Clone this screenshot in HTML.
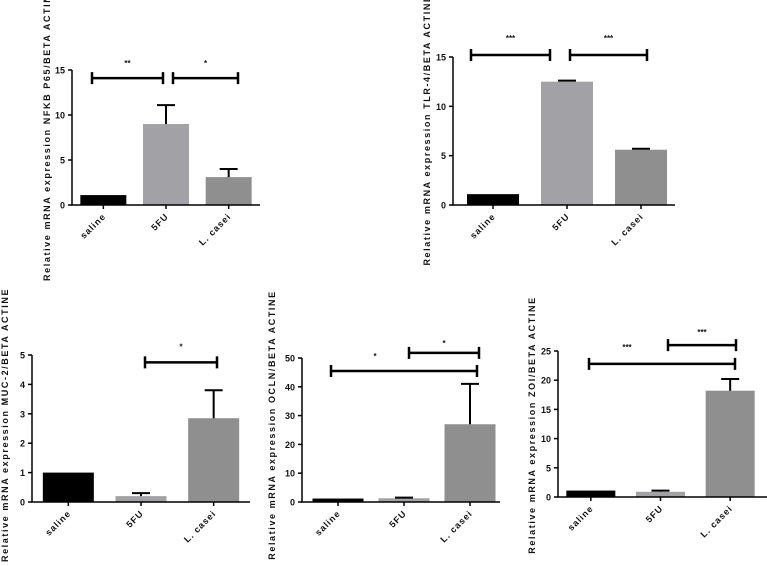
<!DOCTYPE html>
<html><head><meta charset="utf-8"><style>
body{margin:0;background:#fff;width:767px;height:566px;overflow:hidden}
svg{display:block}
text{font-family:"Liberation Sans",sans-serif;font-weight:bold;fill:#111}
</style></head><body>
<svg id="c" width="767" height="566"></svg>
<script>
const categories=["saline","5FU","L. casei"];
const nfkbValues=[1.1,9.0,3.1];
const nfkbErrors=[0,2.1,0.9];
const tlrValues=[1.1,12.5,5.6];
const tlrErrors=[0,0.1,0.1];
const mucValues=[1.0,0.2,2.85];
const mucErrors=[0,0.1,0.95];
const oclnValues=[1.2,1.3,27];
const oclnErrors=[0,0.2,14];
const zoiValues=[1.1,0.9,18.2];
const zoiErrors=[0,0.2,2.0];
const nfkbTicks=[0,5,10,15];
const tlrTicks=[0,5,10,15];
const mucTicks=[0,1,2,3,4,5];
const oclnTicks=[0,10,20,30,40,50];
const zoiTicks=[0,5,10,15,20,25];
const nfkbSig=[{y:14.1,s:"**"},{y:14.1,s:"*"}];
const tlrSig=[{y:15.2,s:"***"},{y:15.2,s:"***"}];
const mucSig=[{y:4.75,s:"*"}];
const oclnSig=[{y:45.5,s:"*"},{y:51.8,s:"*"}];
const zoiSig=[{y:22.8,s:"***"},{y:26,s:"***"}];
const colors=["#000","#a2a2a6","#8f8f8f"];
const NS="http://www.w3.org/2000/svg";
const svg=document.getElementById('c');
function mk(tag,attrs,parent,txt){const e=document.createElementNS(NS,tag);for(const k in attrs)e.setAttribute(k,attrs[k]);if(txt!==undefined)e.textContent=txt;parent.appendChild(e);return e;}
function panel(o){
  const g=mk('g',{},svg);
  
  
  const y=v=>o.y0-(v/o.max)*(o.y0-o.yTop);
  const bw=(o.xEnd-o.ax)/3;
  const cx=i=>o.ax+bw*(i+0.5)+o.shift;
  const barW=o.barW;
  o.values.forEach((v,i)=>{
    const r=mk('rect',{x:cx(i)-barW/2,y:y(v),width:barW,height:o.y0-y(v),fill:colors[i]},g);
    
    
    if(o.errs[i]>0){
      const top=y(v+o.errs[i]);
      const l=mk('path',{d:`M${cx(i)} ${y(v)}V${top}M${cx(i)-9} ${top}H${cx(i)+9}`,stroke:'#000','stroke-width':2,fill:'none'},g);
      
      
    }
  });
  const ax=mk('path',{d:`M${o.ax} ${o.yTop}V${o.y0}H${o.xEnd}`,stroke:'#000','stroke-width':1.5,fill:'none'},g);
  
  
  o.ticks.forEach(t=>{
    mk('line',{x1:o.ax-4,x2:o.ax,y1:y(t),y2:y(t),stroke:'#000','stroke-width':1.5},g);
    const tl=mk('text',{x:o.ax-7,y:y(t)+3.5,'font-size':9,'text-anchor':'end'},g,t);
    
    
  });
  categories.forEach((c,i)=>{
    mk('line',{x1:cx(i),x2:cx(i),y1:o.y0,y2:o.y0+4,stroke:'#000','stroke-width':1.5},g);
    const tx=cx(i)+3,ty=o.y0+12;
    const t=mk('text',{x:tx,y:ty,'font-size':9,'text-anchor':'end','letter-spacing':'1',transform:`rotate(-45 ${tx} ${ty})`},g,c);
    
    
  });
  o.sig.forEach((s,k)=>{
    const xa=o.sigX[k][0], x2=o.sigX[k][1];
    const yy=y(s.y);
    const p=mk('path',{d:`M${xa} ${yy-6}V${yy+6}M${xa} ${yy}H${x2}M${x2} ${yy-6}V${yy+6}`,stroke:'#000','stroke-width':2.5,fill:'none'},g);
    
    
    const sx=o.starX&&o.starX[k]!=null?o.starX[k]:(xa+x2)/2;
    const st=mk('text',{x:sx,y:yy-o.starUp[k],'font-size':8,'text-anchor':'middle'},g,s.s);
    
    
  });
  const tt=mk('text',{x:o.tx,y:o.ty,'font-size':9,'text-anchor':'middle','letter-spacing':'1.6',transform:`rotate(-90 ${o.tx} ${o.ty})`},g,o.title);
  
  
}
panel({name:'nfkb-chart',ax:72,xEnd:260,y0:205,yTop:70,max:15,shift:0,barW:46,values:nfkbValues,errs:nfkbErrors,ticks:nfkbTicks,sig:nfkbSig,sigX:[[92,163],[173,238]],starUp:[12,12],tx:50,ty:134,title:"Relative mRNA expression NFKB P65/BETA ACTINE"});
panel({name:'tlr4-chart',ax:453,xEnd:675,y0:205,yTop:57,max:15,shift:3,barW:52,values:tlrValues,errs:tlrErrors,ticks:tlrTicks,sig:tlrSig,sigX:[[471,550],[570,647]],starUp:[14,14],tx:430,ty:130,title:"Relative mRNA expression TLR-4/BETA ACTINE"});
panel({name:'muc2-chart',ax:32,xEnd:250,y0:502,yTop:355,max:5,shift:0,barW:51,values:mucValues,errs:mucErrors,ticks:mucTicks,sig:mucSig,sigX:[[145,217]],starUp:[13],tx:8,ty:425,title:"Relative mRNA expression MUC-2/BETA ACTINE"});
panel({name:'ocln-chart',ax:302,xEnd:500,y0:502,yTop:358,max:50,shift:3,barW:51,values:oclnValues,errs:oclnErrors,ticks:oclnTicks,sig:oclnSig,sigX:[[331,477],[409,479]],starX:[375,null],starUp:[12,7],tx:275,ty:425,title:"Relative mRNA expression OCLN/BETA ACTINE"});
panel({name:'zoi-chart',ax:558,xEnd:767,y0:497,yTop:351,max:25,shift:-2,barW:49,values:zoiValues,errs:zoiErrors,ticks:zoiTicks,sig:zoiSig,sigX:[[589,735],[668,736]],starX:[627,null],starUp:[14,10],tx:535,ty:425,title:"Relative mRNA expression ZOI/BETA ACTINE"});
</script>
</body></html>
